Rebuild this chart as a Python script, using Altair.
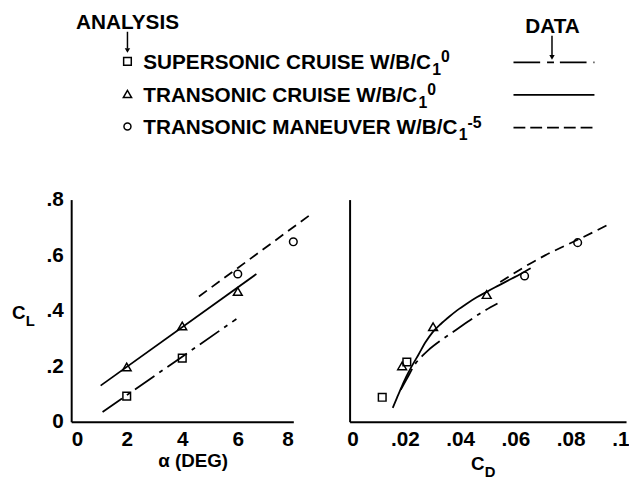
import altair as alt
import pandas as pd

FONT = "Liberation Sans"

# ---------------- data ----------------
# Left panel: C_L vs alpha
sup_alpha_pts = [2, 4]
sup_cl_pts = [0.092, 0.229]
tcr_alpha_pts = [2, 4, 6]
tcr_cl_pts = [0.197, 0.345, 0.469]
tmn_alpha_pts = [6, 8]
tmn_cl_pts = [0.532, 0.648]

sup_alpha_line = [1.13, 5.95]
sup_cl_line = [0.035, 0.37]
tcr_alpha_line = [1.06, 6.67]
tcr_cl_line = [0.13, 0.532]
tmn_alpha_line = [4.6, 8.7]
tmn_cl_line = [0.451, 0.752]

# Right panel: C_L vs C_D
sup_cd_pts = [0.0118, 0.0207]
sup_cdl_pts = [0.088, 0.215]
tcr_cd_pts = [0.019, 0.0302, 0.0496]
tcr_cdl_pts = [0.201, 0.342, 0.458]
tmn_cd_pts = [0.0633, 0.0825]
tmn_cdl_pts = [0.525, 0.645]

tcr_cd_curve = [0.0156, 0.0172, 0.0188, 0.0205, 0.0225, 0.025, 0.0275, 0.030, 0.033, 0.036, 0.039, 0.0425, 0.046, 0.050, 0.054, 0.058, 0.062, 0.0655]
tcr_cl_curve = [0.05, 0.088, 0.125, 0.162, 0.2, 0.243, 0.287, 0.322, 0.352, 0.378, 0.402, 0.426, 0.448, 0.470, 0.491, 0.512, 0.533, 0.553]
sup_cd_curve = [0.0185, 0.021, 0.0235, 0.0262, 0.0285, 0.033, 0.0374, 0.0427, 0.048, 0.0535]
sup_cl_curve = [0.115, 0.16, 0.205, 0.236, 0.258, 0.293, 0.323, 0.360, 0.395, 0.426]
tmn_cd_curve = [0.0545, 0.0625, 0.0707, 0.0775, 0.0839, 0.0946]
tmn_cl_curve = [0.503, 0.553, 0.599, 0.632, 0.662, 0.715]

alpha_ticks = [0, 2, 4, 6, 8]
cl_ticks = [0, 0.2, 0.4, 0.6, 0.8]
cd_ticks = [0, 0.02, 0.04, 0.06, 0.08, 0.1]

legend_rows = [
    ("SUPERSONIC CRUISE W/B/C", "1", "0"),
    ("TRANSONIC CRUISE W/B/C", "1", "0"),
    ("TRANSONIC MANEUVER W/B/C", "1", "-5"),
]

# ---------------- helpers ----------------
DASHDOT = [24, 6, 4, 6]
DASHED = [10, 6]
LW = 1.8

EMPTY = alt.Data(values=[{}])

# Arial-bold advance widths (em) for placing sub/superscripts after the legend text
W = {"A": .722, "B": .722, "C": .722, "D": .722, "E": .667, "I": .278, "M": .833, "N": .722,
     "O": .778, "P": .667, "R": .722, "S": .667, "T": .611, "U": .722, "V": .667, "W": .944,
     "/": .278, " ": .278}

LEG_FS = 21
SUB_FS = 16

# ---------------- scales / axes ----------------
ax_sc = alt.Scale(domain=[0, 8], nice=False, zero=False)
cl_sc = alt.Scale(domain=[0, 0.8], nice=False, zero=False)
cd_sc = alt.Scale(domain=[0, 0.1], nice=False, zero=False)

lab_expr = "datum.value == 0 ? '0' : replace(format(datum.value, '.2~f'), '0.', '.')"

axis_common = dict(
    domainColor="black", domainWidth=2, ticks=False, grid=False,
    labelFont=FONT, labelFontSize=21, labelFontWeight="bold", labelColor="black", title=None,
)

AX_ALPHA = alt.Axis(values=alpha_ticks, labelPadding=7, **axis_common)
AX_CL_L = alt.Axis(values=cl_ticks, labelPadding=8, labelExpr=lab_expr, **axis_common)
AX_CD = alt.Axis(values=cd_ticks, labelPadding=7, labelExpr=lab_expr,
                 labelFlush=True, labelFlushOffset=3, **axis_common)
AX_CL_R = alt.Axis(values=cl_ticks, labels=False, **axis_common)


def df(xs, ys):
    return pd.DataFrame({"x": xs, "y": ys})


def enc(xsc, ysc, xax, yax):
    return dict(x=alt.X("x:Q", scale=xsc, axis=xax), y=alt.Y("y:Q", scale=ysc, axis=yax))


def line(xs, ys, e, dash=None):
    kw = dict(color="black", strokeWidth=LW, clip=False, interpolate="monotone")
    if dash is not None:
        kw["strokeDash"] = dash
    return alt.Chart(df(xs, ys)).mark_line(**kw).encode(order="x:Q", **e)


def pts(xs, ys, e, shape, size):
    return alt.Chart(df(xs, ys)).mark_point(
        shape=shape, filled=False, color="black", strokeWidth=1.5, size=size, opacity=1, clip=False
    ).encode(**e)


def txt(t, x, y, size=20, align="left"):
    return alt.Chart(EMPTY).mark_text(
        text=t, font=FONT, fontSize=size, fontWeight="bold", align=align,
        baseline="alphabetic", color="black"
    ).encode(x=alt.value(x), y=alt.value(y))


def hrule(x1, x2, y, dash=None, width=LW):
    kw = dict(color="black", strokeWidth=width)
    if dash is not None:
        kw["strokeDash"] = dash
    return alt.Chart(EMPTY).mark_rule(**kw).encode(x=alt.value(x1), x2=alt.value(x2), y=alt.value(y))


def vrule(x, y1, y2):
    return alt.Chart(EMPTY).mark_rule(color="black", strokeWidth=1.5).encode(
        x=alt.value(x), y=alt.value(y1), y2=alt.value(y2))


def marker(x, y, shape, size, filled=False):
    return alt.Chart(EMPTY).mark_point(
        shape=shape, filled=filled, color="black", strokeWidth=1.5, size=size, opacity=1
    ).encode(x=alt.value(x), y=alt.value(y))


EL = enc(ax_sc, cl_sc, AX_ALPHA, AX_CL_L)
ER = enc(cd_sc, cl_sc, AX_CD, AX_CL_R)

# ---------------- legend (in left-panel pixel coordinates) ----------------
leg = [
    txt("ANALYSIS", 5, -173, size=LEG_FS),
    vrule(57, -170, -153),
    marker(57, -151, "triangle-down", 30, filled=True),
    txt("DATA", 487.5, -169, size=LEG_FS, align="center"),
    vrule(487, -166, -146),
    marker(487, -144, "triangle-down", 30, filled=True),
]
row_y = [-140, -107, -74]
shapes = [("square", 60), ("triangle-up", 70), ("circle", 50)]
sample_dash = [[27, 7, 7, 6], None, [12, 5]]
for (main, sub, sup), ry, (shp, sz), dsh in zip(legend_rows, row_y, shapes, sample_dash):
    leg.append(marker(57, ry, shp, sz))
    base = ry + 8
    leg.append(txt(main, 73, base, size=LEG_FS))
    wend = 73 + sum(W[c] for c in main) * LEG_FS
    leg.append(txt(sub, wend + 1, base + 6, size=SUB_FS))
    leg.append(txt(sup, wend + 10, base - 7, size=SUB_FS))
    leg.append(hrule(448, 530, ry + 1, dash=dsh))

# axis titles as text
left_titles = [
    txt("C", -60, 121, size=19),
    txt("L", -46, 128, size=15),
    txt("\u03b1 (DEG)", 123.5, 271, size=19, align="center"),
]
right_titles = [
    txt("C", 123, 274, size=19),
    txt("D", 137, 281, size=15),
]

left = alt.layer(
    line(sup_alpha_line, sup_cl_line, EL, DASHDOT),
    line(tcr_alpha_line, tcr_cl_line, EL),
    line(tmn_alpha_line, tmn_cl_line, EL, DASHED),
    pts(sup_alpha_pts, sup_cl_pts, EL, "square", 60),
    pts(tcr_alpha_pts, tcr_cl_pts, EL, "triangle-up", 80),
    pts(tmn_alpha_pts, tmn_cl_pts, EL, "circle", 60),
    *left_titles,
    *leg,
).properties(width=225, height=225)

right = alt.layer(
    line(sup_cd_curve, sup_cl_curve, ER, DASHDOT),
    line(tcr_cd_curve, tcr_cl_curve, ER),
    line(tmn_cd_curve, tmn_cl_curve, ER, DASHED),
    pts(sup_cd_pts, sup_cdl_pts, ER, "square", 60),
    pts(tcr_cd_pts, tcr_cdl_pts, ER, "triangle-up", 80),
    pts(tmn_cd_pts, tmn_cdl_pts, ER, "circle", 60),
    *right_titles,
).properties(width=280, height=225)

chart = alt.hconcat(left, right, spacing=57, bounds="flush").properties(
    padding={"left": 4, "top": 1, "right": 0, "bottom": 0}
).configure_view(stroke=None).resolve_scale(x="independent", y="independent")

chart.save("out.html", embed_options={"renderer": "svg", "actions": False})
